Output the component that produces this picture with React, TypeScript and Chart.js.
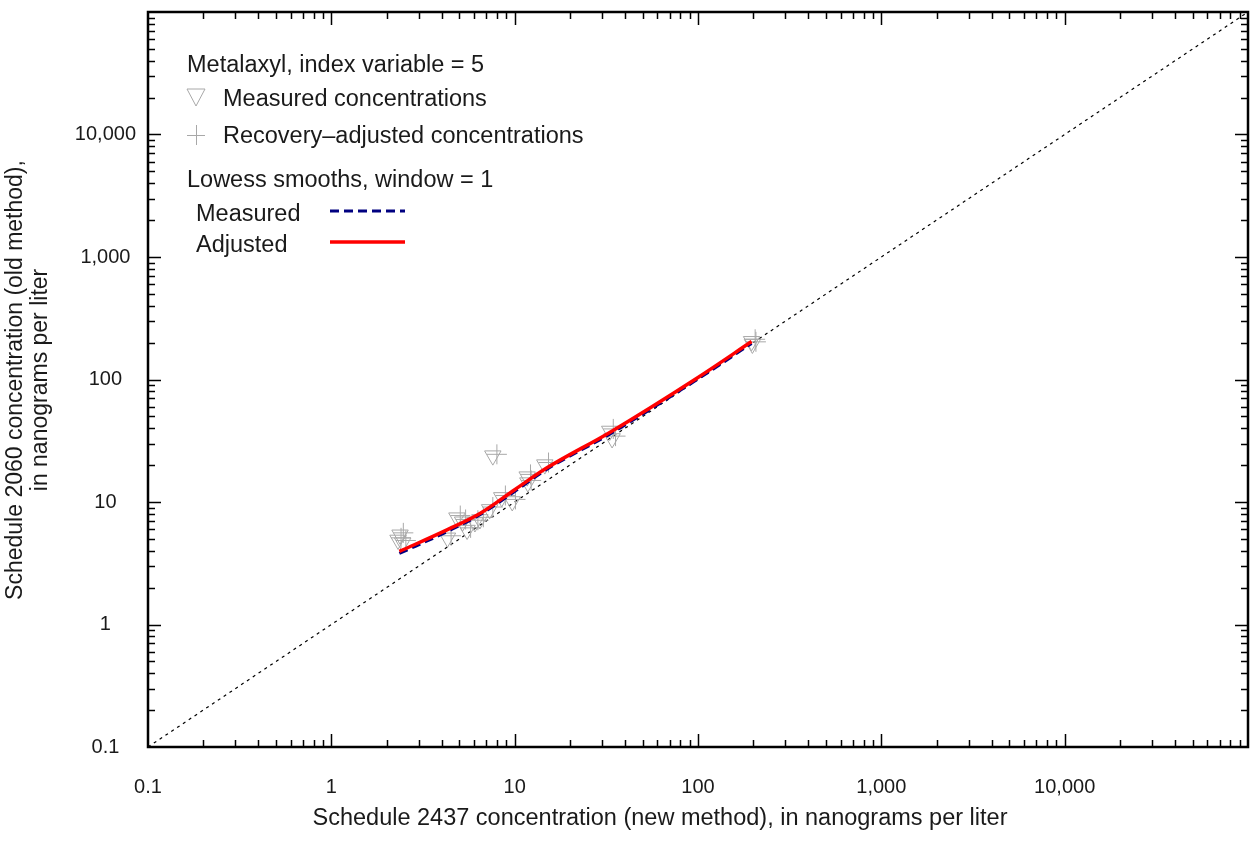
import React, { useEffect, useRef } from 'react';
import { Chart, registerables } from 'chart.js';

Chart.register(...registerables);

// ---- data ----
const measuredX = [2.31, 2.37, 2.45, 4.3, 4.84, 5.2, 5.5, 6.07, 6.46, 7.3, 7.6, 8.5, 9.7, 11.7, 11.8, 14.6, 33.0, 34.0, 196, 198];
const measuredY = [4.9, 5.4, 4.65, 5.1, 7.45, 6.9, 5.9, 6.8, 7.2, 8.7, 23.9, 10.9, 10.1, 16.1, 14.4, 20.2, 38, 33, 205, 195];

const adjustedX = [2.4, 2.47, 2.55, 4.5, 5.05, 5.4, 5.75, 6.3, 6.75, 7.6, 8.0, 8.9, 10.1, 12.2, 12.3, 15.3, 34.5, 35.5, 205, 207];
const adjustedY = [5.1, 5.6, 4.85, 5.3, 7.75, 7.2, 6.15, 7.1, 7.5, 9.1, 24.5, 11.3, 10.5, 16.8, 15.0, 21.0, 39.5, 34.5, 213, 203];

const lowessX = [2.35, 4.3, 6.5, 10, 15, 33, 100, 196];
const lowessMeasuredY = [3.8, 5.75, 7.9, 12.2, 18.5, 35.8, 101, 197];
const lowessAdjustedY = [3.95, 5.95, 8.1, 12.6, 19.0, 37, 104, 204];

const oneToOne = [0.1, 100000];

const xTickValues = [0.1, 1, 10, 100, 1000, 10000];
const yTickValues = [0.1, 1, 10, 100, 1000, 10000];

const FONT = '"Liberation Sans", Arial, sans-serif';
const TEXT = '#1a1a1a';
const GRAY = '#a8a8a8';

function fmt(v: number): string {
  if (v < 1) return String(v);
  return String(Math.round(v)).replace(/\B(?=(\d{3})+(?!\d))/g, ',');
}

function pts(xs: number[], ys: number[]) {
  return xs.map((x, i) => ({ x, y: ys[i] }));
}

function zeroPadding(s: any) {
  s.paddingTop = 0;
  s.paddingBottom = 0;
  s.paddingLeft = 0;
  s.paddingRight = 0;
}

const framePlugin = {
  id: 'framePlugin',
  afterDraw(chart: any) {
    const { ctx, chartArea } = chart;
    const { left, right, top, bottom } = chartArea;
    const xs = chart.scales.x;
    const ys = chart.scales.y;
    ctx.save();
    ctx.strokeStyle = '#000';
    ctx.lineWidth = 1.5;
    ctx.beginPath();
    for (let e = -1; e < 5; e++) {
      for (let m = 1; m <= 9; m++) {
        const v = m * Math.pow(10, e);
        const len = m === 1 ? 13 : 7;
        if (v > 0.1 && v < 100000) {
          const px = Math.round(xs.getPixelForValue(v)) + 0.5;
          ctx.moveTo(px, bottom);
          ctx.lineTo(px, bottom - len);
          ctx.moveTo(px, top);
          ctx.lineTo(px, top + len);
          const py = Math.round(ys.getPixelForValue(v)) + 0.5;
          ctx.moveTo(left, py);
          ctx.lineTo(left + len, py);
          ctx.moveTo(right, py);
          ctx.lineTo(right - len, py);
        }
      }
    }
    ctx.stroke();
    ctx.lineWidth = 2.5;
    ctx.strokeRect(left, top, right - left, bottom - top);

    // axis titles
    ctx.fillStyle = TEXT;
    ctx.font = `23.5px ${FONT}`;
    ctx.textAlign = 'center';
    ctx.textBaseline = 'alphabetic';
    ctx.fillText('Schedule 2437 concentration (new method), in nanograms per liter', 660, 825);
    ctx.font = `23px ${FONT}`;
    ctx.save();
    ctx.translate(22, 380);
    ctx.rotate(-Math.PI / 2);
    ctx.fillText('Schedule 2060 concentration (old method),', 0, 0);
    ctx.restore();
    ctx.save();
    ctx.translate(47, 380);
    ctx.rotate(-Math.PI / 2);
    ctx.fillText('in nanograms per liter', 0, 0);
    ctx.restore();

    // legend
    ctx.font = `23.5px ${FONT}`;
    ctx.textAlign = 'left';
    ctx.fillText('Metalaxyl, index variable = 5', 187, 72);
    ctx.fillText('Measured concentrations', 223, 106);
    ctx.fillText('Recovery\u2013adjusted concentrations', 223, 143);
    ctx.fillText('Lowess smooths, window = 1', 187, 187);
    ctx.fillText('Measured', 196, 221);
    ctx.fillText('Adjusted', 196, 252);

    // legend symbols
    ctx.strokeStyle = GRAY;
    ctx.lineWidth = 1;
    ctx.beginPath();
    ctx.moveTo(187, 89);
    ctx.lineTo(205, 89);
    ctx.lineTo(196, 106);
    ctx.closePath();
    ctx.stroke();
    ctx.beginPath();
    ctx.moveTo(187, 135.5);
    ctx.lineTo(205, 135.5);
    ctx.moveTo(196.5, 125);
    ctx.lineTo(196.5, 145);
    ctx.stroke();

    ctx.strokeStyle = '#000080';
    ctx.lineWidth = 3;
    ctx.setLineDash([9, 5]);
    ctx.beginPath();
    ctx.moveTo(330, 211);
    ctx.lineTo(405, 211);
    ctx.stroke();
    ctx.setLineDash([]);
    ctx.strokeStyle = '#ff0000';
    ctx.lineWidth = 3.5;
    ctx.beginPath();
    ctx.moveTo(330, 242);
    ctx.lineTo(405, 242);
    ctx.stroke();
    ctx.restore();
  },
};

export default function App() {
  const canvasRef = useRef<HTMLCanvasElement | null>(null);

  useEffect(() => {
    const canvas = canvasRef.current;
    if (!canvas) return;
    const chart = new Chart(canvas, {
      type: 'scatter',
      data: {
        datasets: [
          {
            label: 'Adjusted lowess',
            data: pts(lowessX, lowessAdjustedY),
            showLine: true,
            borderColor: '#ff0000',
            borderWidth: 3.5,
            pointRadius: 0,
            cubicInterpolationMode: 'monotone',
            order: 0,
          },
          {
            label: 'Measured lowess',
            data: pts(lowessX, lowessMeasuredY),
            showLine: true,
            borderColor: '#000080',
            borderWidth: 3,
            borderDash: [9, 5],
            pointRadius: 0,
            cubicInterpolationMode: 'monotone',
            order: 1,
          },
          {
            label: 'Recovery-adjusted concentrations',
            data: pts(adjustedX, adjustedY),
            pointStyle: 'cross',
            pointRadius: 10,
            pointBorderColor: GRAY,
            pointBackgroundColor: 'rgba(0,0,0,0)',
            pointBorderWidth: 1,
            order: 2,
          },
          {
            label: 'Measured concentrations',
            data: pts(measuredX, measuredY),
            pointStyle: 'triangle',
            pointRotation: 180,
            pointRadius: 9.5,
            pointBorderColor: GRAY,
            pointBackgroundColor: 'rgba(0,0,0,0)',
            pointBorderWidth: 1,
            order: 3,
          },
          {
            label: '1:1',
            data: pts(oneToOne, oneToOne),
            showLine: true,
            borderColor: '#000',
            borderWidth: 1.2,
            borderDash: [3, 4],
            pointRadius: 0,
            order: 4,
          },
        ],
      },
      options: {
        responsive: false,
        animation: false,
        layout: { autoPadding: false, padding: { top: 12, right: 6, left: 0, bottom: 0 } },
        plugins: {
          legend: { display: false },
          tooltip: { enabled: false },
        },
        scales: {
          x: {
            type: 'logarithmic',
            position: 'bottom',
            min: 0.1,
            max: 100000,
            afterBuildTicks: (s: any) => {
              s.ticks = xTickValues.map((v) => ({ value: v }));
            },
            afterFit: (s: any) => {
              s.height = 101;
              zeroPadding(s);
            },
            grid: { display: false, drawTicks: false },
            border: { display: false },
            ticks: {
              autoSkip: false,
              maxRotation: 0,
              minRotation: 0,
              padding: 28,
              color: TEXT,
              font: { family: FONT, size: 20 },
              callback: (v: any) => fmt(Number(v)),
            },
          },
          y: {
            type: 'logarithmic',
            position: 'left',
            min: 0.1,
            max: 100000,
            afterBuildTicks: (s: any) => {
              s.ticks = yTickValues.map((v) => ({ value: v }));
            },
            afterFit: (s: any) => {
              s.width = 148;
              zeroPadding(s);
            },
            grid: { display: false, drawTicks: false },
            border: { display: false },
            ticks: {
              autoSkip: false,
              crossAlign: 'center',
              padding: 12,
              color: TEXT,
              font: { family: FONT, size: 20 },
              callback: (v: any) => fmt(Number(v)),
            },
          },
        },
      },
      plugins: [framePlugin],
    } as any);
    return () => chart.destroy();
  }, []);

  return (
    <div style={{ position: 'absolute', left: 0, top: 0, width: 1254, height: 848, background: '#fff' }}>
      <canvas ref={canvasRef} width={1254} height={848} style={{ display: 'block' }} />
    </div>
  );
}
